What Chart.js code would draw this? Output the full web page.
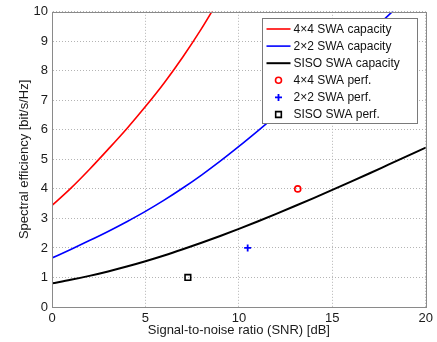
<!DOCTYPE html>
<html>
<head>
<meta charset="utf-8">
<script src="https://cdn.jsdelivr.net/npm/chart.js@4/dist/chart.umd.min.js"></script>
<style>
  html, body { margin: 0; padding: 0; background: #fff; }
  #wrap { width: 437px; height: 342px; }
</style>
</head>
<body>
<div id="wrap"><canvas id="swa" width="437" height="342"></canvas></div>
<script>
// SNR axis (dB) and capacity curves
const snrDb   = [0, 1, 2, 3, 4, 5, 6, 7, 8, 9, 10, 11, 12, 13, 14, 15, 16, 17, 18, 19, 20];
const cap4x4  = [3.44, 4.02, 4.66, 5.34, 6.04, 6.79, 7.59, 8.47, 9.43, 10.48];
const cap2x2  = [1.66, 1.95, 2.25, 2.56, 2.89, 3.24, 3.62, 4.03, 4.47, 4.94, 5.44, 5.96, 6.49, 7.03, 7.58, 8.14, 8.71, 9.29, 9.88, 10.48];
const capSiso = [0.8, 0.92, 1.055, 1.205, 1.37, 1.55, 1.745, 1.955, 2.175, 2.405, 2.645, 2.895, 3.155, 3.42, 3.69, 3.965, 4.245, 4.53, 4.82, 5.11, 5.4];

// measured operating points
const perfSnr = [13.15, 10.47, 7.27];
const perfSe  = [4.0, 2.0, 1.0];

const xTicks = [0, 5, 10, 15, 20];
const yTicks = [0, 1, 2, 3, 4, 5, 6, 7, 8, 9, 10];

function toXY(ys) {
    return ys.map(function(v, i) { return { x: snrDb[i], y: v }; });
}

// box around the axes + legend inside the plot, matlab style
const boxLegend = {
    id: "boxLegend",
    afterDraw(chart) {
        const ctx = chart.ctx;
        const a = chart.chartArea;
        ctx.save();
        ctx.setLineDash([]);
        ctx.strokeStyle = "#8a8a8a";
        ctx.lineWidth = 1;
        ctx.strokeRect(Math.round(a.left) + 0.5, Math.round(a.top) + 0.5,
                       Math.round(a.right - a.left), Math.round(a.bottom - a.top));

        const bx = Math.round(a.right) - 164 + 0.5;
        const by = Math.round(a.top) + 6 + 0.5;
        ctx.fillStyle = "#fff";
        ctx.fillRect(bx, by, 155, 105);
        ctx.strokeStyle = "#7a7a7a";
        ctx.strokeRect(bx, by, 155, 105);

        ctx.font = "12px 'Liberation Sans', Arial, sans-serif";
        ctx.textBaseline = "middle";
        chart.data.datasets.forEach(function(ds, i) {
            const y = by + 10.5 + i * 17.1;
            ctx.strokeStyle = ds.borderColor;
            if (ds.showLine === false) {
                ctx.fillStyle = "rgba(0,0,0,0)";
                ctx.lineWidth = ds.pointBorderWidth;
                Chart.helpers.drawPoint(ctx, {
                    pointStyle: ds.pointStyle, radius: ds.pointRadius,
                    rotation: 0, borderWidth: ds.pointBorderWidth
                }, bx + 16, y);
            } else {
                ctx.lineWidth = ds.borderWidth;
                ctx.beginPath();
                ctx.moveTo(bx + 4, y);
                ctx.lineTo(bx + 28, y);
                ctx.stroke();
            }
            ctx.fillStyle = "#111";
            ctx.fillText(ds.label, bx + 31, y + 0.5);
        });
        ctx.restore();
    }
};

function drawChart() {
    const font = { family: "'Liberation Sans', Arial, sans-serif", size: 13 };
    new Chart("swa", {
        type: "scatter",
        data: {
            datasets: [
                { label: "4\u00d74 SWA capacity", data: toXY(cap4x4), showLine: true,
                  borderColor: "#ff0000", borderWidth: 1.6, pointRadius: 0, cubicInterpolationMode: "monotone" },
                { label: "2\u00d72 SWA capacity", data: toXY(cap2x2), showLine: true,
                  borderColor: "#0000ff", borderWidth: 1.6, pointRadius: 0, cubicInterpolationMode: "monotone" },
                { label: "SISO SWA capacity", data: toXY(capSiso), showLine: true,
                  borderColor: "#000000", borderWidth: 2, pointRadius: 0, cubicInterpolationMode: "monotone" },
                { label: "4\u00d74 SWA perf.", data: [{ x: perfSnr[0], y: perfSe[0] }], showLine: false,
                  borderColor: "#ff0000", backgroundColor: "rgba(0,0,0,0)", pointStyle: "circle",
                  pointRadius: 3, pointBorderWidth: 1.6 },
                { label: "2\u00d72 SWA perf.", data: [{ x: perfSnr[1], y: perfSe[1] }], showLine: false,
                  borderColor: "#0000ff", backgroundColor: "rgba(0,0,0,0)", pointStyle: "cross",
                  pointRadius: 3.5, pointBorderWidth: 1.8 },
                { label: "SISO SWA perf.", data: [{ x: perfSnr[2], y: perfSe[2] }], showLine: false,
                  borderColor: "#000000", backgroundColor: "rgba(0,0,0,0)", pointStyle: "rect",
                  pointRadius: 4, pointBorderWidth: 1.6 }
            ]
        },
        options: {
            responsive: false,
            animation: false,
            layout: { padding: { top: 9, right: 11, left: 0, bottom: 0 } },
            plugins: {
                legend: { display: false },
                tooltip: { enabled: false }
            },
            scales: {
                x: {
                    type: "linear", min: 0, max: 20,
                    afterBuildTicks: function(s) { s.ticks = xTicks.map(function(v) { return { value: v }; }); },
                    afterFit: function(s) { s.height = 35; },
                    grid: { color: "#b4b4b4", lineWidth: 1, drawTicks: false, borderDash: [1, 2] },
                    border: { display: true, color: "rgba(0,0,0,0)", dash: [1, 2] },
                    ticks: { color: "#1a1a1a", padding: 4, maxRotation: 0, font: font },
                    title: { display: true, text: "Signal-to-noise ratio (SNR) [dB]", color: "#1a1a1a",
                             padding: { top: 0, bottom: 4 }, font: font }
                },
                y: {
                    type: "linear", min: 0, max: 10,
                    afterBuildTicks: function(s) { s.ticks = yTicks.map(function(v) { return { value: v }; }); },
                    afterFit: function(s) { s.width = 52; },
                    grid: { color: "#b4b4b4", lineWidth: 1, drawTicks: false, borderDash: [1, 2] },
                    border: { display: true, color: "rgba(0,0,0,0)", dash: [1, 2] },
                    ticks: { color: "#1a1a1a", padding: 4, font: font },
                    title: { display: true, text: "Spectral efficiency [bit/s/Hz]", color: "#1a1a1a",
                             padding: { top: 17, bottom: 0 }, font: font }
                }
            }
        },
        plugins: [boxLegend]
    });
}

drawChart();
</script>
</body>
</html>
